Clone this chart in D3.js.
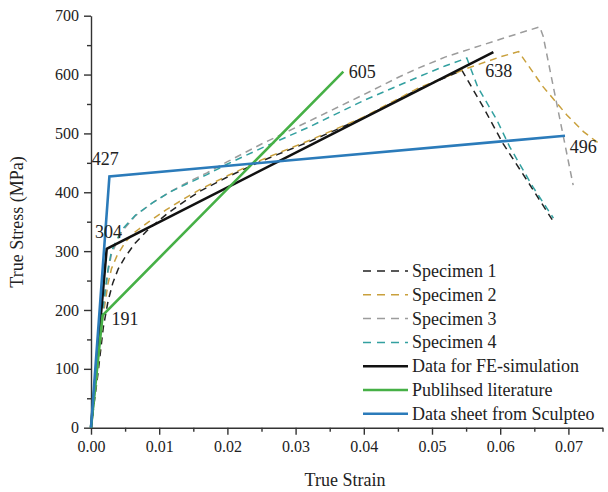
<!DOCTYPE html>
<html lang="en">
  <head>
    <meta charset="utf-8">
    <title>True stress - true strain</title>
    <style>
      body { margin: 0; background: #fff; }
      svg text { font-family: "Liberation Serif", "DejaVu Serif", serif; fill: #222; }
      .axis path, .axis line { stroke: #333; stroke-width: 1.4px; }
      .axis text { font-size: 16px; font-family: "Liberation Serif", serif; }
      .line { fill: none; }
    </style>
  </head>
  <body>
    <svg id="wrapper" width="608" height="492"></svg>

    <script src="https://cdnjs.cloudflare.com/ajax/libs/d3/7.8.5/d3.min.js"></script>
    <script>
    // strain / stress pairs
    const specimen1 = [[0,0],[0.001,90],[0.0018,170],[0.0025,215],[0.0032,246],[0.004,270],[0.005,290],
      [0.0065,314],[0.0085,338],[0.011,362],[0.0135,383],[0.016,402],[0.02,426],[0.025,453],[0.032,486],
      [0.04,527],[0.048,575],[0.0544,607],[0.0575,545],[0.0604,483],[0.064,419],[0.0677,352]];
    const specimen2 = [[0,0],[0.001,100],[0.0017,185],[0.0025,245],[0.003,270],[0.0038,292],[0.005,315],
      [0.0065,333],[0.0085,350],[0.011,370],[0.0135,388],[0.016,405],[0.02,428],[0.025,455],[0.032,488],
      [0.04,528],[0.048,577],[0.055,610],[0.06,630],[0.0627,639],[0.0663,579],[0.0698,531],[0.0722,503],[0.0748,480]];
    const specimen3 = [[0,0],[0.001,105],[0.0018,200],[0.0025,265],[0.003,295],[0.0045,333],[0.0065,360],
      [0.009,382],[0.0115,400],[0.014,416],[0.017,433],[0.02,452],[0.025,482],[0.032,521],[0.04,566],
      [0.045,595],[0.048,611],[0.052,630],[0.056,645],[0.06,660],[0.063,671],[0.0658,681],[0.0663,665],[0.0707,412]];
    const specimen4 = [[0,0],[0.001,110],[0.0018,210],[0.0025,270],[0.003,300],[0.0045,336],[0.0065,361],
      [0.009,382],[0.0115,400],[0.014,414],[0.017,430],[0.02,448],[0.025,475],[0.032,511],[0.04,556],
      [0.048,596],[0.052,615],[0.0551,628],[0.0567,579],[0.0595,523],[0.0614,477],[0.0648,409],[0.0678,356]];
    const feSimulation = [[0,0],[0.0023,304],[0.059,638]];
    const literature = [[0,0],[0.0017,191],[0.037,605]];
    const sculpteo = [[0,0],[0.0027,427],[0.0695,496]];

    const seriesNames = ['Specimen 1','Specimen 2','Specimen 3','Specimen 4',
      'Data for FE-simulation','Publihsed literature','Data sheet from Sculpteo'];
    const seriesColors = ['#222222','#c9a03c','#9c9c9c','#33a0a0','#111111','#46b046','#2b7bba'];
    const seriesDashed = [true,true,true,true,false,false,false];
    const seriesData = [specimen1,specimen2,specimen3,specimen4,feSimulation,literature,sculpteo];

    // values printed next to the solid lines: [text, strain, stress] of the text baseline start
    const pointLabels = [['427', 0.0001, 446],['304', 0.0006, 322],['191', 0.0030, 174],
      ['605', 0.0378, 594],['638', 0.0578, 596],['496', 0.0702, 467]];

    const xTicks = [0,0.01,0.02,0.03,0.04,0.05,0.06,0.07];
    const yTicks = [0,100,200,300,400,500,600,700];

    const svg = d3.select('#wrapper');

    const x = d3.scaleLinear().domain([0, 0.075]).range([91, 602.5]);
    const y = d3.scaleLinear().domain([0, 700]).range([427.7, 15.7]);

    // minor ticks first, then the labelled axes
    svg.append('g')
      .attr('class', 'axis')
      .attr('transform', 'translate(0,' + y(0) + ')')
      .call(d3.axisBottom(x).tickValues(d3.range(0.005, 0.0751, 0.01)).tickSize(4).tickFormat(''))
      .select('.domain').remove();
    svg.append('g')
      .attr('class', 'axis')
      .attr('transform', 'translate(' + x(0) + ',0)')
      .call(d3.axisLeft(y).tickValues(d3.range(50, 700, 100)).tickSize(4).tickFormat(''))
      .select('.domain').remove();

    svg.append('g')
      .attr('class', 'axis')
      .attr('transform', 'translate(0,' + y(0) + ')')
      .call(d3.axisBottom(x).tickValues(xTicks).tickSize(7).tickSizeOuter(0).tickPadding(6)
        .tickFormat(d3.format('.2f')));
    svg.append('g')
      .attr('class', 'axis')
      .attr('transform', 'translate(' + x(0) + ',0)')
      .call(d3.axisLeft(y).tickValues(yTicks).tickSize(7).tickSizeOuter(0).tickPadding(5));

    // axis titles
    svg.append('text')
      .attr('x', 345).attr('y', 486)
      .attr('text-anchor', 'middle')
      .style('font-size', '18px')
      .text('True Strain');
    svg.append('text')
      .attr('transform', 'translate(23,222) rotate(-90)')
      .attr('text-anchor', 'middle')
      .style('font-size', '18px')
      .text('True Stress (MPa)');

    const line = d3.line()
      .x(function(d) { return x(d[0]); })
      .y(function(d) { return y(d[1]); });

    seriesData.forEach(function(s, i) {
      svg.append('path')
        .datum(s)
        .attr('class', 'line')
        .attr('stroke', seriesColors[i])
        .attr('stroke-width', seriesDashed[i] ? 1.5 : 2.6)
        .attr('stroke-dasharray', seriesDashed[i] ? '7,5' : null)
        .attr('d', line);
    });

    // value labels
    svg.selectAll('.pt-label')
      .data(pointLabels)
      .enter().append('text')
      .attr('class', 'pt-label')
      .attr('x', function(d) { return x(d[1]); })
      .attr('y', function(d) { return y(d[2]); })
      .style('font-size', '18px')
      .text(function(d) { return d[0]; });

    // legend
    const legend = svg.append('g').attr('transform', 'translate(363,271)');
    seriesNames.forEach(function(name, i) {
      const row = legend.append('g').attr('transform', 'translate(0,' + (i * 23.8) + ')');
      row.append('line')
        .attr('x1', 0).attr('x2', 45)
        .attr('stroke', seriesColors[i])
        .attr('stroke-width', seriesDashed[i] ? 1.5 : 2.6)
        .attr('stroke-dasharray', seriesDashed[i] ? '8,6' : null);
      row.append('text')
        .attr('x', 49).attr('dy', '0.33em')
        .style('font-size', '18px')
        .text(name);
    });
    </script>
  </body>
</html>
